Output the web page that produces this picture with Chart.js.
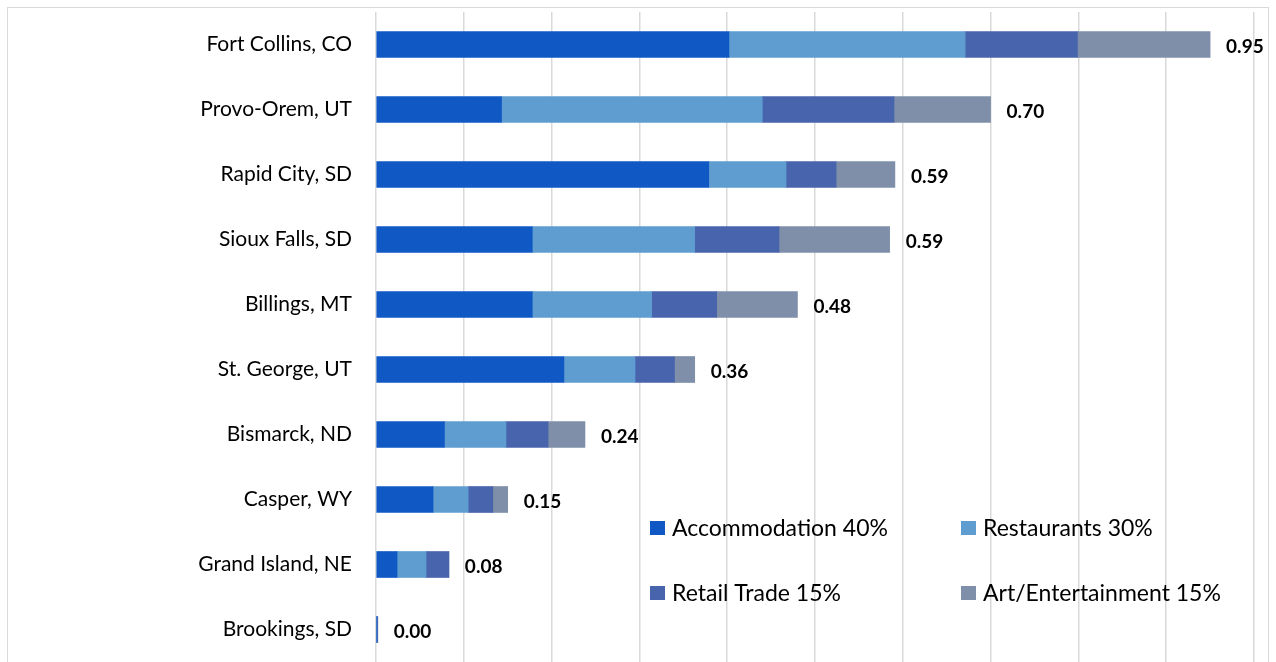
<!DOCTYPE html>
<html>
<head>
<meta charset="utf-8">
<script src="https://cdn.jsdelivr.net/npm/chart.js@4"></script>
<style>
  body { margin: 0; background: #fff; }
  #wrap { position: relative; width: 1276px; height: 662px; }
</style>
</head>
<body>
<div id="wrap"><canvas id="myChart" width="1276" height="662"></canvas></div>
<script>
// categories, top to bottom
const cities = ["Fort Collins, CO", "Provo-Orem, UT", "Rapid City, SD", "Sioux Falls, SD", "Billings, MT",
  "St. George, UT", "Bismarck, ND", "Casper, WY", "Grand Island, NE", "Brookings, SD"];

// weighted components per city
const accommodation = [0.402, 0.143, 0.379, 0.178, 0.178, 0.214, 0.078, 0.065, 0.024, 0.001];
const restaurants   = [0.269, 0.297, 0.088, 0.185, 0.136, 0.081, 0.070, 0.040, 0.033, 0.000];
const retailTrade   = [0.128, 0.150, 0.057, 0.096, 0.074, 0.045, 0.048, 0.028, 0.026, 0.001];
const artEntertain  = [0.151, 0.110, 0.067, 0.126, 0.092, 0.023, 0.042, 0.017, 0.000, 0.000];

// total labels as shown
const totals = ["0.95", "0.70", "0.59", "0.59", "0.48", "0.36", "0.24", "0.15", "0.08", "0.00"];

const seriesNames = ["Accommodation 40%", "Restaurants 30%", "Retail Trade 15%", "Art/Entertainment 15%"];
const colors = ["#1058C4", "#5F9DD1", "#4864AD", "#7F8FA9"];

const FONT = "Lato, 'Open Sans', sans-serif";

const ctx = document.getElementById("myChart");

// bold totals after each bar
const totalLabels = {
  id: "totalLabels",
  afterDatasetsDraw(chart) {
    const c = chart.ctx;
    const x = chart.scales.x;
    const y = chart.scales.y;
    c.save();
    c.font = "bold 19px " + FONT;
    c.fillStyle = "#000";
    c.textBaseline = "middle";
    c.textAlign = "left";
    cities.forEach((city, i) => {
      const sum = accommodation[i] + restaurants[i] + retailTrade[i] + artEntertain[i];
      c.fillText(totals[i], x.getPixelForValue(sum) + 16, y.getPixelForValue(i) + 2);
    });
    c.restore();
  }
};

// legend inside the plot, 2 x 2
const boxLegend = {
  id: "boxLegend",
  afterDraw(chart) {
    const c = chart.ctx;
    const area = chart.chartArea;
    c.save();
    c.font = "23px " + FONT;
    c.textBaseline = "middle";
    c.textAlign = "left";
    seriesNames.forEach((name, i) => {
      const col = i % 2, row = Math.floor(i / 2);
      const bx = area.left + 274 + col * 311;
      const by = area.top + 516 + row * 65;
      c.fillStyle = colors[i];
      c.fillRect(bx, by - 7, 15, 14);
      c.fillStyle = "#000";
      c.fillText(name, bx + 22, by + 1);
    });
    c.restore();
  }
};

// light frame round the whole chart
const frame = {
  id: "frame",
  beforeDraw(chart) {
    const c = chart.ctx;
    c.save();
    c.strokeStyle = "#d9d9d9";
    c.lineWidth = 1;
    c.strokeRect(7.5, 7.5, chart.width - 15, chart.height);
    c.restore();
  }
};

new Chart(ctx, {
  type: "bar",
  data: {
    labels: cities,
    datasets: [
      { label: seriesNames[0], data: accommodation, backgroundColor: colors[0] },
      { label: seriesNames[1], data: restaurants, backgroundColor: colors[1] },
      { label: seriesNames[2], data: retailTrade, backgroundColor: colors[2] },
      { label: seriesNames[3], data: artEntertain, backgroundColor: colors[3] },
    ],
  },
  plugins: [frame, totalLabels, boxLegend],
  options: {
    indexAxis: "y",
    responsive: false,
    animation: false,
    layout: {
      padding: { top: 12, right: 22, bottom: 0, left: 0 }
    },
    datasets: {
      bar: { barThickness: 26, borderWidth: 0 }
    },
    plugins: {
      legend: { display: false },
      tooltip: { enabled: false }
    },
    scales: {
      x: {
        stacked: true,
        min: 0,
        max: 1,
        ticks: { display: false, stepSize: 0.1 },
        grid: { color: "#d9d9d9", lineWidth: 1.5, drawTicks: false },
        border: { display: false },
        afterFit(scale) {
          scale.height = 0;
          scale.paddingLeft = 0;
          scale.paddingRight = 0;
        }
      },
      y: {
        stacked: true,
        grid: { display: false, drawTicks: false },
        border: { display: false },
        ticks: {
          color: "#000",
          padding: 24,
          font: { family: FONT, size: 21 }
        },
        afterFit(scale) {
          scale.width = 376;
          scale.paddingTop = 0;
          scale.paddingBottom = 0;
        }
      }
    }
  }
});
</script>
</body>
</html>
